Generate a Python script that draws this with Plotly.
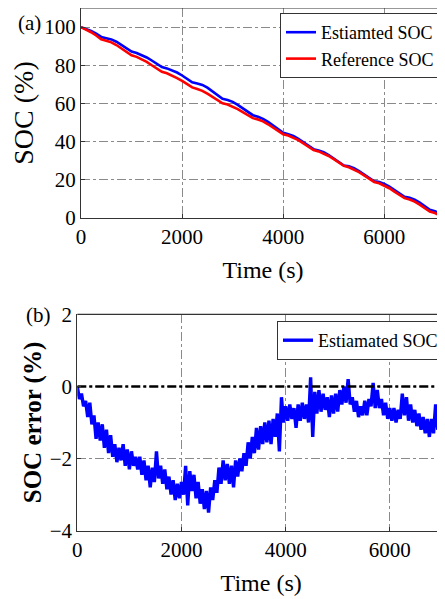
import plotly.graph_objects as go

# ---------------- data ----------------
soc_time = [0, 100, 200, 300, 400, 500, 600, 700, 800, 900, 1000, 1100, 1200, 1300, 1400,
            1500, 1600, 1700, 1800, 1900, 2000, 2100, 2200, 2300, 2400, 2500, 2600, 2700,
            2800, 2900, 3000, 3100, 3200, 3300, 3400, 3500, 3600, 3700, 3800, 3900, 4000,
            4100, 4200, 4300, 4400, 4500, 4600, 4700, 4800, 4900, 5000, 5100, 5200, 5300,
            5400, 5500, 5600, 5700, 5800, 5900, 6000, 6100, 6200, 6300, 6400, 6500, 6600,
            6700, 6800, 6900, 7000, 7100, 7200]

reference_soc = [100, 98.7, 97.3, 95.6, 93.6, 92.8, 92.0, 90.6, 88.8, 86.9, 85.2, 84.4, 83.3,
                 81.8, 80.0, 78.3, 76.6, 75.8, 74.7, 73.3, 71.8, 70.1, 68.4, 67.6, 66.6, 65.1,
                 63.4, 61.7, 60.1, 59.4, 58.4, 57.0, 55.5, 53.9, 52.3, 51.6, 50.6, 49.1, 47.4,
                 45.6, 43.9, 43.2, 42.2, 40.8, 39.1, 37.3, 35.6, 34.9, 33.9, 32.5, 30.8, 29.0,
                 27.3, 26.6, 25.5, 24.0, 22.3, 20.5, 18.9, 18.2, 17.1, 15.6, 13.8, 12.0, 10.4,
                 9.7, 8.6, 7.0, 5.2, 3.4, 2.6, 1.2, 0.2]

estimated_soc = [100, 99.15, 97.95, 96.55, 94.85, 94.2, 93.55, 92.35, 90.7, 88.8, 87.2, 86.45,
                 85.45, 84.1, 82.5, 80.6, 79.05, 78.35, 77.45, 76.2, 74.65, 72.85, 71.05, 70.45,
                 69.7, 68.3, 66.3, 64.25, 62.45, 61.8, 60.85, 59.25, 57.6, 55.65, 53.85, 53.0,
                 51.9, 50.35, 48.5, 46.5, 44.65, 43.9, 43.0, 41.5, 39.8, 37.9, 36.05, 35.35,
                 34.45, 33.0, 31.25, 29.25, 27.45, 27.1, 26.15, 24.6, 22.85, 20.75, 19.25, 18.8,
                 17.85, 16.4, 14.55, 12.55, 11.15, 10.55, 9.55, 8.1, 6.35, 4.3, 3.6, 2.25, 1.3]

error_time = list(range(0, 7081, 40))
soc_error = [0.0, -0.35, -0.2, -0.55, -0.4, -0.85, -0.45, -1.05, -0.8, -1.45, -1.0, -1.5,
             -1.05, -1.7, -1.2, -1.85, -1.35, -1.95, -1.6, -2.1, -1.7, -2.05, -1.6, -2.2,
             -1.75, -2.3, -1.8, -2.2, -1.95, -2.3, -1.95, -2.45, -2.05, -2.6, -2.2, -2.8,
             -2.25, -2.65, -1.8, -2.55, -2.2, -2.7, -2.3, -2.85, -2.5, -3.0, -2.6, -3.15,
             -2.7, -3.1, -2.65, -3.0, -2.2, -3.3, -2.35, -2.9, -2.45, -3.1, -2.65, -3.25,
             -2.85, -3.4, -2.9, -3.5, -2.8, -3.15, -2.6, -2.95, -2.25, -2.7, -2.05, -2.6,
             -2.15, -2.7, -2.2, -2.8, -2.05, -2.5, -2.0, -2.35, -1.85, -2.2, -1.55, -2.0,
             -1.4, -1.85, -1.15, -1.75, -1.1, -1.6, -1.0, -1.55, -0.95, -1.6, -0.9, -1.4,
             -0.75, -1.8, -0.3, -1.0, -0.55, -0.95, -0.5, -0.9, -0.6, -1.15, -0.5, -0.95,
             -0.45, -0.9, -0.5, -1.0, 0.25, -1.4, -0.15, -0.75, -0.1, -0.7, -0.2, -0.65,
             -0.3, -0.85, -0.25, -0.75, -0.2, -0.7, -0.1, -0.5, 0.0, -0.45, 0.2, -0.5,
             -0.3, -0.7, -0.4, -0.85, -0.55, -0.8, -0.4, -0.8, -0.35, -0.55, 0.1, -0.6,
             -0.1, -0.6, -0.35, -0.8, -0.45, -0.9, -0.6, -0.95, -0.6, -1.0, -0.65, -0.9,
             -0.2, -0.8, -0.3, -0.95, -0.5, -1.0, -0.65, -1.1, -0.75, -1.2, -0.85, -1.3,
             -0.9, -1.4, -0.9, -1.3, -0.5, -1.2, -0.8, -1.2, -0.9, -1.15]

soc_ticks = [0, 20, 40, 60, 80, 100]
err_ticks = [-4, -2, 0, 2]
time_ticks = [0, 2000, 4000, 6000]

# ---------------- figure ----------------
# the page body has an 8 px margin, so the figure is 8 px smaller than the window
OX, OY = 8, 8
W, H = 445 - OX, 599 - OY
FONT = "Liberation Serif"


def px(x):
    return min(1.0, max(0.0, (x - OX) / W))


def py(y):
    return min(1.0, max(0.0, 1 - (y - OY) / H))


fig = go.Figure()

fig.add_trace(go.Scatter(x=soc_time, y=estimated_soc, mode="lines", name="Estiamted SOC",
                         line=dict(color="#0000ff", width=2.6), xaxis="x", yaxis="y",
                         legend="legend"))
fig.add_trace(go.Scatter(x=soc_time, y=reference_soc, mode="lines", name="Reference SOC",
                         line=dict(color="#ff0000", width=2.6), xaxis="x", yaxis="y",
                         legend="legend"))
fig.add_trace(go.Scatter(x=error_time, y=soc_error, mode="lines", name="Estiamated SOC",
                         line=dict(color="#0000ff", width=3.4), xaxis="x2", yaxis="y2",
                         legend="legend2"))
# zero reference line in panel (b)
fig.add_trace(go.Scatter(x=[0, 7200], y=[0, 0], mode="lines", showlegend=False,
                         line=dict(color="black", width=2.5, dash="dashdot"),
                         xaxis="x2", yaxis="y2"))

grid = dict(showgrid=True, gridcolor="#8a8a8a", gridwidth=1, griddash="dashdot",
            showline=True, linecolor="#333333", linewidth=1.2, zeroline=False,
            ticks="inside", ticklen=4, tickcolor="#333333", automargin=False,
            tickfont=dict(family=FONT, size=21, color="black"))

x1d = [px(81), 1.0]
y1d = [py(218), py(7.3)]
x2d = [px(77.3), 1.0]
y2d = [py(530.7), py(314.3)]

fig.update_layout(
    width=W, height=H,
    margin=dict(l=0, r=0, t=0, b=0, autoexpand=False),
    paper_bgcolor="white", plot_bgcolor="white",
    font=dict(family=FONT, color="black"),
    xaxis=dict(domain=x1d, range=[0, 7200], tickvals=time_ticks, anchor="y",
               title=dict(text="Time (s)", font=dict(family=FONT, size=24), standoff=12), **grid),
    yaxis=dict(domain=y1d, range=[0, 110], tickvals=soc_ticks, anchor="x",
               title=dict(text="SOC (%)", font=dict(family=FONT, size=28), standoff=3), **grid),
    xaxis2=dict(domain=x2d, range=[0, 7060], tickvals=time_ticks, anchor="y2",
                title=dict(text="Time (s)", font=dict(family=FONT, size=24), standoff=13), **grid),
    yaxis2=dict(domain=y2d, range=[-4, 2], tickvals=err_ticks, anchor="x2",
                title=dict(text="<b>SOC error (%)</b>", font=dict(family=FONT, size=25), standoff=0),
                **grid),
    legend=dict(x=px(280), y=py(13), xanchor="left", yanchor="top",
                bordercolor="#333333", borderwidth=1, bgcolor="white",
                font=dict(family=FONT, size=18), itemwidth=30, tracegroupgap=0),
    legend2=dict(x=px(277), y=py(321), xanchor="left", yanchor="top",
                 bordercolor="#333333", borderwidth=1, bgcolor="white",
                 font=dict(family=FONT, size=18), itemwidth=30),
    showlegend=True,
)

# top frame lines (right edge lies outside the picture)
fig.add_shape(type="line", xref="paper", yref="paper", x0=x1d[0], x1=1.0, y0=y1d[1], y1=y1d[1],
              line=dict(color="#333333", width=1.2))
fig.add_shape(type="line", xref="paper", yref="paper", x0=x2d[0], x1=1.0, y0=y2d[1], y1=y2d[1],
              line=dict(color="#333333", width=1.2))

fig.add_annotation(text="(a)", xref="paper", yref="paper", x=px(16), y=py(9),
                   xanchor="left", yanchor="top", showarrow=False,
                   font=dict(family=FONT, size=21, color="black"))
fig.add_annotation(text="(b)", xref="paper", yref="paper", x=px(24), y=py(301),
                   xanchor="left", yanchor="top", showarrow=False,
                   font=dict(family=FONT, size=21, color="black"))

fig.write_html("out.html")
